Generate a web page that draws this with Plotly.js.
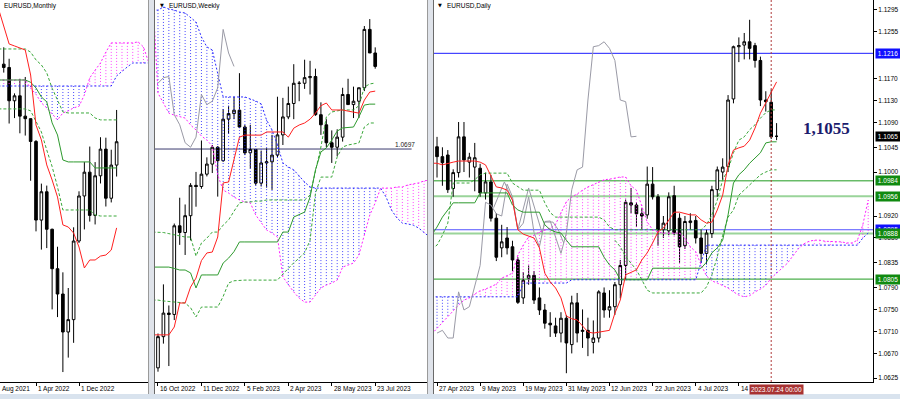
<!DOCTYPE html>
<html><head><meta charset="utf-8">
<script src="https://cdn.plot.ly/plotly-3.0.1.min.js"></script>
<style>html,body{margin:0;padding:0;background:#fff;}#chart{width:900px;height:399px;}</style>
</head><body><div id="chart"></div>
<script>
// ---------------- MONTHLY (m0 = Oct 2021 ... m21 = Jul 2023) ----------------
const mOpen  = [1.1580,1.1558,1.1337,1.1370,1.1235,1.1218,1.1067,1.0545,1.0733,1.0484,1.0222,1.0054,0.9802,0.9884,1.0406,1.0705,1.0863,1.0576,1.0839,1.1016,1.0690,1.0910];
const mHigh  = [1.1692,1.1616,1.1386,1.1483,1.1495,1.1185,1.1076,1.0787,1.0774,1.0488,1.0368,1.0198,1.0094,1.0497,1.0736,1.0930,1.1033,1.0930,1.1095,1.1092,1.1012,1.1276];
const mLow   = [1.1524,1.1186,1.1222,1.1121,1.1106,1.0806,1.0470,1.0349,1.0359,0.9952,0.9901,0.9536,0.9632,0.9730,1.0393,1.0483,1.0535,1.0516,1.0788,1.0635,1.0662,1.0834];
const mClose = [1.1558,1.1337,1.1370,1.1235,1.1218,1.1067,1.0545,1.0733,1.0484,1.0222,1.0054,0.9802,0.9884,1.0406,1.0705,1.0863,1.0576,1.0839,1.1016,1.0690,1.0910,1.1065];
// indicators from m = -1
const mTenkan = [1.1950,1.1840,1.1714,1.1701,1.1688,1.1674,1.1508,1.1176,1.1077,1.0911,1.0811,1.0698,1.0513,1.0499,1.0459,1.0366,1.0227,1.0280,1.0280,1.0306,1.0313,1.0346,1.0493];
const mKijun  = [1.1475,1.1475,1.1475,1.1475,1.1475,1.1475,1.1460,1.1422,1.1362,1.1330,1.1190,1.1110,1.0944,1.0931,1.0931,1.0931,1.0931,1.0931,1.0891,1.0891,1.0891,1.0891,1.0891];
const mDashU  = [1.1681,1.1681,1.1681,1.1681,1.1681,1.1681,1.1660,1.1608,1.1575,1.1522,1.1420,1.1342,1.1263,1.1256,1.1256,1.1256,1.1256,1.1256,1.1223,1.1210,1.1210,1.1210,1.1210];
const mDashL  = [1.1283,1.1283,1.1283,1.1283,1.1283,1.1283,1.1270,1.1200,1.1130,1.1010,1.0900,1.0765,1.0612,1.0612,1.0612,1.0612,1.0612,1.0612,1.0579,1.0572,1.0572,1.0572,1.0572];
// cloud spans from m = -1 to m = 27
const mSpanBlue = [1.1435,1.1435,1.1435,1.1435,1.1435,1.1435,1.1435,1.1435,1.1435,1.1435,1.1435,1.1435,1.1435,1.1435,1.1435,1.1435,1.1435,1.1435,1.1435,1.1435,1.1435,1.1435,1.1502,1.1535,1.1562,1.1588,1.1588,1.1588,1.1588];
const mSpanMag  = [1.1475,1.1475,1.1475,1.1475,1.1475,1.1475,1.1420,1.1380,1.1323,1.1290,1.1250,1.1210,1.1256,1.1270,1.1290,1.1300,1.1376,1.1489,1.1540,1.1588,1.1660,1.1721,1.1721,1.1721,1.1721,1.1721,1.1728,1.1694,1.1588];
const mTickIdx  = [-2, 6, 14];
const mTickText = ['1 Aug 2021','1 Apr 2022','1 Dec 2022'];

// ---------------- WEEKLY (w0 = 16 Oct 2022 ... w40 = 23 Jul 2023) ----------------
const wOpen  = [0.9722,0.9861,0.9966,0.9960,1.0355,1.0325,1.0400,1.0535,1.0530,1.0585,1.0630,1.0705,1.0645,1.0830,1.0855,1.0870,1.0795,1.0680,1.0695,1.0545,1.0635,1.0640,1.0670,1.0760,1.0840,1.0900,1.0990,1.0990,1.1015,1.1020,1.0850,1.0805,1.0725,1.0705,1.0750,1.0940,1.0895,1.0910,1.0970,1.1230,1.1125];
const wHigh  = [0.9875,1.0094,1.0000,1.0365,1.0480,1.0450,1.0545,1.0595,1.0735,1.0660,1.0715,1.0710,1.0875,1.0890,1.0930,1.1035,1.0805,1.0805,1.0695,1.0690,1.0700,1.0760,1.0930,1.0925,1.0975,1.1075,1.1000,1.1095,1.1090,1.1055,1.0905,1.0830,1.0780,1.0785,1.0970,1.1010,1.0975,1.0970,1.1245,1.1276,1.1150];
const wLow   = [0.9705,0.9830,0.9730,0.9935,1.0270,1.0225,1.0290,1.0440,1.0520,1.0575,1.0590,1.0485,1.0640,1.0765,1.0830,1.0790,1.0670,1.0610,1.0535,1.0530,1.0525,1.0515,1.0660,1.0715,1.0830,1.0830,1.0910,1.0965,1.0940,1.0845,1.0760,1.0705,1.0635,1.0665,1.0730,1.0895,1.0835,1.0835,1.0955,1.1125,1.1055];
const wClose = [0.9861,0.9966,0.9960,1.0355,1.0325,1.0400,1.0535,1.0530,1.0585,1.0630,1.0705,1.0645,1.0830,1.0855,1.0870,1.0795,1.0680,1.0695,1.0545,1.0635,1.0640,1.0670,1.0760,1.0840,1.0900,1.0990,1.0990,1.1015,1.1020,1.0850,1.0805,1.0725,1.0705,1.0750,1.0940,1.0895,1.0910,1.0970,1.1230,1.1125,1.1065];
// indicators from w = -1
const wTenkan = [0.9869,0.9869,0.9869,0.9869,0.9904,1.0011,1.0011,1.0082,1.0122,1.0200,1.0234,1.0238,1.0305,1.0546,1.0550,1.0650,1.0750,1.0759,1.0759,1.0759,1.0759,1.0773,1.0773,1.0773,1.0773,1.0750,1.0790,1.0804,1.0813,1.0830,1.0857,1.0890,1.0902,1.0871,1.0871,1.0871,1.0866,1.0862,1.0857,1.0915,1.0951,1.0955];
const wKijun  = [1.0171,1.0171,1.0171,1.0171,1.0165,1.0158,1.0158,1.0145,1.0078,1.0136,1.0136,1.0136,1.0136,1.0189,1.0211,1.0240,1.0283,1.0283,1.0283,1.0283,1.0283,1.0283,1.0283,1.0283,1.0327,1.0327,1.0394,1.0405,1.0416,1.0483,1.0604,1.0684,1.0702,1.0737,1.0777,1.0791,1.0793,1.0795,1.0840,1.0893,1.0897,1.0897];
const wDashU  = [1.0327,1.0327,1.0325,1.0320,1.0315,1.0310,1.0305,1.0305,1.0220,1.0278,1.0300,1.0327,1.0327,1.0358,1.0381,1.0420,1.0457,1.0461,1.0461,1.0465,1.0465,1.0470,1.0470,1.0470,1.0470,1.0470,1.0470,1.0470,1.0470,1.0492,1.0603,1.0706,1.0840,1.0862,1.0867,1.0871,1.0871,1.0871,1.0890,1.0973,1.0987,1.0991];
const wDashL  = [1.0024,1.0024,1.0020,1.0018,1.0015,1.0013,1.0011,0.9990,0.9949,0.9993,0.9993,0.9993,0.9993,1.0040,1.0100,1.0110,1.0113,1.0113,1.0113,1.0113,1.0113,1.0113,1.0113,1.0113,1.0140,1.0167,1.0190,1.0211,1.0235,1.0290,1.0500,1.0572,1.0572,1.0572,1.0662,1.0706,1.0715,1.0720,1.0724,1.0795,1.0813,1.0813];
// cloud spans from w = -1 to w = 50
const wSpanBlue = [1.1316,1.1316,1.1330,1.1321,1.1316,1.1307,1.1303,1.1285,1.1263,1.1196,1.1152,1.1138,1.1027,1.0929,1.0929,1.0929,1.0929,1.0929,1.0920,1.0911,1.0898,1.0826,1.0782,1.0715,1.0635,1.0617,1.0604,1.0577,1.0550,1.0528,1.0523,1.0523,1.0523,1.0523,1.0523,1.0523,1.0523,1.0523,1.0523,1.0523,1.0523,1.0523,1.0523,1.0483,1.0425,1.0390,1.0367,1.0363,1.0358,1.0345,1.0323,1.0305];
const wSpanMag  = [1.1400,1.0946,1.0902,1.0857,1.0848,1.0840,1.0835,1.0804,1.0782,1.0755,1.0737,1.0710,1.0581,1.0514,1.0501,1.0483,1.0470,1.0461,1.0457,1.0403,1.0372,1.0336,1.0323,1.0305,1.0127,1.0091,1.0060,1.0033,1.0015,1.0015,1.0047,1.0078,1.0091,1.0100,1.0113,1.0171,1.0180,1.0189,1.0225,1.0314,1.0403,1.0457,1.0523,1.0523,1.0523,1.0528,1.0528,1.0537,1.0541,1.0546,1.0555,1.0559];
const wLevel = 1.0697;
const wTickIdx  = [0, 8, 16, 24, 32, 40];
const wTickText = ['16 Oct 2022','11 Dec 2022','5 Feb 2023','2 Apr 2023','28 May 2023','23 Jul 2023'];

// ---------------- DAILY (i0 = 27 Apr 2023 ... i63 = 25 Jul 2023) ----------------
const dOpen  = [1.1046,1.1028,1.1031,1.0970,1.0999,1.1064,1.1018,1.1009,1.1007,1.0962,1.0982,1.0916,1.0862,1.0880,1.0864,1.0840,1.0771,1.0807,1.0812,1.0771,1.0749,1.0725,1.0720,1.0707,1.0734,1.0686,1.0762,1.0710,1.0712,1.0690,1.0698,1.0780,1.0749,1.0755,1.0795,1.0830,1.0944,1.0940,1.0924,1.0922,1.0978,1.0955,1.0895,1.0893,1.0957,1.0916,1.0866,1.0908,1.0912,1.0880,1.0852,1.0888,1.0968,1.1000,1.1010,1.1133,1.1228,1.1231,1.1237,1.1230,1.1203,1.1131,1.1127,1.1065];
const dHigh  = [1.1064,1.1045,1.1040,1.1005,1.1091,1.1091,1.1035,1.1053,1.1015,1.0999,1.0995,1.0925,1.0904,1.0900,1.0875,1.0845,1.0818,1.0830,1.0820,1.0790,1.0760,1.0745,1.0735,1.0745,1.0740,1.0775,1.0780,1.0750,1.0735,1.0730,1.0785,1.0790,1.0785,1.0800,1.0840,1.0950,1.0971,1.0945,1.0935,1.1010,1.1009,1.0960,1.0920,1.0963,1.0975,1.0925,1.0920,1.0925,1.0920,1.0895,1.0895,1.0975,1.1010,1.1025,1.1140,1.1230,1.1245,1.1253,1.1277,1.1235,1.1210,1.1147,1.1150,1.1089];
const dLow   = [1.0990,1.0975,1.0962,1.0955,1.0990,1.1000,1.0990,1.0965,1.0955,1.0950,1.0910,1.0838,1.0845,1.0850,1.0820,1.0760,1.0760,1.0795,1.0760,1.0740,1.0715,1.0700,1.0700,1.0690,1.0634,1.0670,1.0690,1.0680,1.0665,1.0670,1.0690,1.0735,1.0735,1.0740,1.0770,1.0805,1.0925,1.0900,1.0895,1.0915,1.0950,1.0866,1.0880,1.0885,1.0885,1.0835,1.0860,1.0895,1.0870,1.0835,1.0832,1.0880,1.0955,1.0985,1.1000,1.1125,1.1200,1.1205,1.1205,1.1190,1.1120,1.1110,1.1060,1.1058];
const dClose = [1.1028,1.1017,1.0968,1.0999,1.1064,1.1022,1.1027,1.1026,1.0962,1.0982,1.0916,1.0845,1.0873,1.0862,1.0840,1.0763,1.0803,1.0812,1.0767,1.0749,1.0725,1.0722,1.0707,1.0734,1.0689,1.0762,1.0707,1.0712,1.0698,1.0698,1.0782,1.0749,1.0755,1.0795,1.0830,1.0945,1.0940,1.0924,1.0920,1.0978,1.0955,1.0895,1.0907,1.0955,1.0890,1.0864,1.0910,1.0911,1.0880,1.0852,1.0889,1.0968,1.1004,1.1009,1.1131,1.1228,1.1230,1.1237,1.1225,1.1203,1.1131,1.1128,1.1064,1.1065];
// indicators from i = -1
const dTenkan = [1.1016,1.1016,1.1013,1.1016,1.1018,1.1020,1.1020,1.1020,1.1020,1.1018,1.1013,1.0993,1.0973,1.0971,1.0967,1.0949,1.0895,1.0887,1.0884,1.0880,1.0862,1.0816,1.0800,1.0789,1.0771,1.0738,1.0733,1.0731,1.0720,1.0709,1.0707,1.0709,1.0711,1.0712,1.0743,1.0767,1.0813,1.0818,1.0822,1.0840,1.0853,1.0871,1.0891,1.0898,1.0913,1.0927,1.0927,1.0924,1.0922,1.0922,1.0913,1.0907,1.0909,1.0931,1.0958,1.1013,1.1040,1.1044,1.1047,1.1058,1.1080,1.1107,1.1126,1.1146,1.1164];
const dKijun  = [1.0885,1.0900,1.0918,1.0931,1.0944,1.0944,1.0944,1.0944,1.0944,1.0962,1.0962,1.0962,1.0962,1.0962,1.0962,1.0940,1.0931,1.0927,1.0927,1.0927,1.0927,1.0904,1.0895,1.0891,1.0889,1.0876,1.0864,1.0864,1.0864,1.0864,1.0864,1.0864,1.0845,1.0831,1.0822,1.0804,1.0804,1.0804,1.0804,1.0804,1.0804,1.0825,1.0825,1.0825,1.0825,1.0825,1.0825,1.0825,1.0825,1.0825,1.0825,1.0836,1.0853,1.0862,1.0876,1.0922,1.0980,1.0995,1.1004,1.1016,1.1026,1.1035,1.1053,1.1055,1.1055];
const dDashU  = [1.0860,1.0867,1.0885,1.0907,1.0980,1.0980,1.0980,1.0980,1.0986,1.0995,1.0998,1.0998,1.0998,1.0998,1.0998,1.0980,1.0973,1.0967,1.0967,1.0967,1.0967,1.0944,1.0926,1.0918,1.0918,1.0918,1.0918,1.0918,1.0918,1.0918,1.0918,1.0918,1.0913,1.0900,1.0895,1.0895,1.0895,1.0895,1.0895,1.0895,1.0895,1.0895,1.0895,1.0895,1.0895,1.0895,1.0895,1.0895,1.0895,1.0895,1.0895,1.0904,1.0922,1.0949,1.0986,1.1004,1.1035,1.1058,1.1064,1.1077,1.1086,1.1098,1.1108,1.1113,1.1113];
const dDashL  = [null,null,null,null,null,null,null,null,null,null,null,null,null,null,null,null,null,null,null,null,null,null,null,null,null,null,null,null,null,null,null,null,null,null,1.0876,1.0864,1.0846,1.0835,1.0822,1.0804,1.0785,1.0780,1.0780,1.0780,1.0780,1.0780,1.0780,1.0780,1.0780,1.0780,1.0780,1.0791,1.0813,1.0846,1.0885,1.0918,1.0931,1.0958,1.0967,1.0976,1.0986,1.0995,1.1000,1.1004,1.1004];
// cloud spans from i = -1 to i = 80
const dSpanBlue = [1.0773,1.0773,1.0773,1.0773,1.0773,1.0773,1.0773,1.0773,1.0773,1.0773,1.0773,1.0773,1.0773,1.0773,1.0773,1.0773,1.0773,1.0798,1.0798,1.0798,1.0798,1.0798,1.0798,1.0798,1.0798,1.0798,1.0804,1.0804,1.0804,1.0804,1.0804,1.0804,1.0804,1.0804,1.0804,1.0804,1.0804,1.0804,1.0804,1.0804,1.0804,1.0804,1.0804,1.0804,1.0804,1.0804,1.0804,1.0804,1.0804,1.0804,1.0836,1.0867,1.0867,1.0867,1.0867,1.0867,1.0867,1.0867,1.0867,1.0867,1.0867,1.0867,1.0867,1.0867,1.0867,1.0867,1.0867,1.0867,1.0867,1.0867,1.0867,1.0867,1.0867,1.0867,1.0867,1.0867,1.0867,1.0867,1.0867,1.0867,1.0880,1.0889];
const dSpanMag  = [1.0705,1.0716,1.0727,1.0738,1.0749,1.0758,1.0767,1.0771,1.0778,1.0784,1.0787,1.0791,1.0796,1.0807,1.0811,1.0816,1.0849,1.0867,1.0882,1.0885,1.0891,1.0895,1.0898,1.0905,1.0927,1.0946,1.0955,1.0960,1.0967,1.0973,1.0977,1.0982,1.0986,1.0987,1.0989,1.0991,1.0991,1.0975,1.0967,1.0940,1.0909,1.0895,1.0891,1.0889,1.0889,1.0889,1.0889,1.0880,1.0864,1.0855,1.0831,1.0811,1.0802,1.0798,1.0794,1.0789,1.0782,1.0776,1.0773,1.0775,1.0782,1.0787,1.0794,1.0807,1.0816,1.0825,1.0834,1.0847,1.0860,1.0869,1.0874,1.0876,1.0876,1.0874,1.0874,1.0873,1.0873,1.0871,1.0871,1.0876,1.0904,1.0949];
const dGray2X = [10.5,12.5,14,15,17,18.5,19.5,20,21.5,22.5,23.5];
const dGray2Y = [1.0935,1.0982,1.0949,1.0895,1.0971,1.0922,1.0889,1.0909,1.0909,1.0895,1.0871];
const dLevels      = [1.1216, 1.0984, 1.0956, 1.0895, 1.0888, 1.0805];
const dLevelKinds  = ['blue','green','lgreen','blue2','lgreen','green2'];
const dTickVals = [1.1295,1.1255,1.1170,1.1130,1.1090,1.1045,1.1000,1.0920,1.0880,1.0835,1.0790,1.0750,1.0710,1.0670,1.0625];
const dTickIdx  = [0, 8, 16, 24, 32, 40, 48, 56];
const dTickText = ['27 Apr 2023','9 May 2023','19 May 2023','31 May 2023','12 Jun 2023','22 Jun 2023','4 Jul 2023','14'];
const dMarkIdx  = 62;
const dMarkText = '2023.07.24 00:00';
const dNoteText = '1,1055';

// ---------------- helpers ----------------
const FONT = 'Liberation Sans, Arial, sans-serif';
const FS = 6.5;
const seq = (start, n) => Array.from({length: n}, (_, k) => start + k);
const C = {red:'#ff2020', kijun:'#2e9a2e', dash:'#3aa83a', gray:'#9a9aa6', blue:'#2a2aff', mag:'#ff20ff'};

function lineTrace(xs, ys, xa, ya, color, width, dash) {
  return {type:'scatter', mode:'lines', x:xs, y:ys, xaxis:xa, yaxis:ya,
    line:{color:color, width:width, dash:dash || 'solid'}, hoverinfo:'skip', connectgaps:false};
}
function hatch(start, blue, mag, xa, ya) {
  const bx=[], by=[], mx=[], my=[];
  for (let k = 0; k < blue.length; k++) {
    const x = start + k, a = blue[k], b = mag[k];
    if (a == null || b == null) continue;
    if (a >= b) { bx.push(x, x, null); by.push(a, b, null); }
    else { mx.push(x, x, null); my.push(b, a, null); }
  }
  return [
    lineTrace(bx, by, xa, ya, 'rgba(40,40,255,0.85)', 1, '1px,2px'),
    lineTrace(mx, my, xa, ya, 'rgba(255,40,255,0.85)', 1, '1px,2px')
  ];
}
function candles(o, h, l, c, xa, ya) {
  return {type:'candlestick', x:seq(0, o.length), open:o, high:h, low:l, close:c, xaxis:xa, yaxis:ya,
    whiskerwidth:0, hoverinfo:'skip',
    increasing:{line:{color:'#000', width:1}, fillcolor:'#ffffff'},
    decreasing:{line:{color:'#000', width:1}, fillcolor:'#000000'}};
}
function ichimoku(xa, ya, o, h, l, c, tenkan, kijun, dashU, dashL, spanBlue, spanMag, withChikou) {
  const t = [];
  t.push(...hatch(-1, spanBlue, spanMag, xa, ya));
  t.push(lineTrace(seq(-1, spanBlue.length), spanBlue, xa, ya, C.blue, 1, '2px,2px'));
  t.push(lineTrace(seq(-1, spanMag.length), spanMag, xa, ya, C.mag, 1, '2px,2px'));
  if (withChikou) t.push(lineTrace(seq(0, c.length - 26), c.slice(26), xa, ya, C.gray, 1));
  t.push(lineTrace(seq(-1, dashU.length), dashU, xa, ya, C.dash, 1, '3px,2px'));
  t.push(lineTrace(seq(-1, dashL.length), dashL, xa, ya, C.dash, 1, '3px,2px'));
  t.push(lineTrace(seq(-1, kijun.length), kijun, xa, ya, C.kijun, 1));
  t.push(lineTrace(seq(-1, tenkan.length), tenkan, xa, ya, C.red, 1));
  t.push(candles(o, h, l, c, xa, ya));
  return t;
}

// ---------------- geometry ----------------
const W = 900, H = 399, AXIS_Y = 382;
const mDom = [0, 148/W],   mRange = [-0.70, 26.84];
const wDom = [155/W, 428/W], wRange = [-0.55, 49.72];
const dDom = [434/W, 873/W], dRange = [-0.56, 80.89];
const yDom = [(H - AXIS_Y)/H, 1];
const xp = (dom, rng, v) => dom[0] + (v - rng[0]) / (rng[1] - rng[0]) * (dom[1] - dom[0]);
const yp = px => 1 - px / H;

// ---------------- traces ----------------
const traces = [];
traces.push(...ichimoku('x', 'y', mOpen, mHigh, mLow, mClose, mTenkan, mKijun, mDashU, mDashL, mSpanBlue, mSpanMag, false));
traces.push(...ichimoku('x2', 'y2', wOpen, wHigh, wLow, wClose, wTenkan, wKijun, wDashU, wDashL, wSpanBlue, wSpanMag, true));
const dTr = ichimoku('x3', 'y3', dOpen, dHigh, dLow, dClose, dTenkan, dKijun, dDashU, dDashL, dSpanBlue, dSpanMag, true);
dTr.splice(3, 0, lineTrace(dGray2X, dGray2Y, 'x3', 'y3', C.gray, 1));
traces.push(...dTr);

// ---------------- axes ----------------
function xAxis(dom, rng, anchor, ticks) {
  return {domain:dom, range:rng, anchor:anchor, showgrid:false, zeroline:false, showline:true,
    linecolor:'#000', linewidth:1, ticks:'outside', ticklen:3, tickcolor:'#000', tickwidth:1,
    tickmode:'array', tickvals:ticks, showticklabels:false, fixedrange:true, rangeslider:{visible:false}};
}
const layout = {
  width:W, height:H, margin:{l:0, r:0, t:0, b:0},
  paper_bgcolor:'#ffffff', plot_bgcolor:'#ffffff', showlegend:false,
  font:{family:FONT, size:FS, color:'#000'},
  xaxis:  xAxis(mDom, mRange, 'y', mTickIdx),
  xaxis2: xAxis(wDom, wRange, 'y2', wTickIdx),
  xaxis3: xAxis(dDom, dRange, 'y3', dTickIdx),
  yaxis:  {domain:yDom, range:[0.9470, 1.2006], anchor:'x', visible:false, fixedrange:true},
  yaxis2: {domain:yDom, range:[0.9659, 1.1361], anchor:'x2', visible:false, fixedrange:true},
  yaxis3: {domain:yDom, range:[1.0618, 1.1313], anchor:'x3', side:'right', showgrid:false, zeroline:false,
    showline:true, linecolor:'#000', linewidth:1, ticks:'outside', ticklen:3, tickcolor:'#000',
    tickmode:'array', tickvals:dTickVals, ticktext:dTickVals.map(v => v.toFixed(4)),
    tickfont:{family:FONT, size:FS, color:'#000'}, fixedrange:true},
  shapes:[], annotations:[]
};

// panel frames
const S = layout.shapes;
S.push({type:'rect', xref:'paper', yref:'paper', x0:148/W, x1:155/W, y0:0, y1:1, fillcolor:'#dfe3ea', line:{width:0}});
S.push({type:'rect', xref:'paper', yref:'paper', x0:428/W, x1:434/W, y0:0, y1:1, fillcolor:'#dfe3ea', line:{width:0}});
S.push({type:'rect', xref:'paper', yref:'paper', x0:0, x1:1, y0:0, y1:5/H, fillcolor:'#d9e3ee', line:{width:0}});
[148.5, 427.5].forEach(px => S.push({type:'line', xref:'paper', yref:'paper', x0:px/W, x1:px/W, y0:5/H, y1:1, line:{color:'#9a9a9a', width:1}}));
[154.5, 433.5].forEach(px => S.push({type:'line', xref:'paper', yref:'paper', x0:px/W, x1:px/W, y0:5/H, y1:1, line:{color:'#6a6a6a', width:1}}));

// weekly level
S.push({type:'line', xref:'x2 domain', yref:'y2', x0:0, x1:0.94, y0:wLevel, y1:wLevel, line:{color:'#3a3a6e', width:1}, layer:'below'});
// daily levels
const levelStyle = {
  blue:{color:'#1c1cff', width:1}, blue2:{color:'#5050ff', width:1.2},
  green:{color:'#1f9a1f', width:1}, green2:{color:'#4caf4c', width:1.2}, lgreen:{color:'#9ad49a', width:2}
};
dLevels.forEach((v, k) => S.push({type:'line', xref:'x3 domain', yref:'y3', x0:0, x1:1, y0:v, y1:v, line:levelStyle[dLevelKinds[k]], layer:'below'}));
// daily marker line
S.push({type:'line', xref:'x3', yref:'y3 domain', x0:dMarkIdx, x1:dMarkIdx, y0:0, y1:1, line:{color:'#b03a3a', width:1, dash:'2px,2px'}});

// ---------------- annotations ----------------
const A = layout.annotations;
const txt = (x, y, text, opts) => A.push(Object.assign({xref:'paper', yref:'paper', x:x, y:y, text:text, showarrow:false,
  xanchor:'left', yanchor:'top', font:{family:FONT, size:FS, color:'#000'}, borderpad:0}, opts || {}));

function dateLabels(dom, rng, idx, labels) {
  idx.forEach((v, k) => {
    let x = xp(dom, rng, v) + 1/W, t = labels[k];
    if (x < 0) { t = t.replace(/^\d+\s/, ''); x = 1/W; }   // the leading day is cut off by the window edge
    txt(x, yp(AXIS_Y + 2), t);
  });
}
dateLabels(mDom, mRange, mTickIdx, mTickText);
dateLabels(wDom, wRange, wTickIdx, wTickText);
dateLabels(dDom, dRange, dTickIdx, dTickText);

// titles
txt(3/W, yp(1), 'EURUSD,Monthly');
txt(159/W, yp(1), '▼', {font:{family:'DejaVu Sans', size:5, color:'#000'}});
txt(168/W, yp(1), 'EURUSD,Weekly');
txt(437/W, yp(1), '▼', {font:{family:'DejaVu Sans', size:5, color:'#000'}});
txt(446/W, yp(1), 'EURUSD,Daily');

// weekly level label
A.push({xref:'x2 domain', yref:'y2', x:0.955, y:wLevel, text:wLevel.toFixed(4), showarrow:false, xanchor:'right', yanchor:'bottom',
  font:{family:FONT, size:FS, color:'#222'}, borderpad:0});

// daily price boxes
const boxBg = {blue:'#1010ff', blue2:'#1010ff', green:'#108a10', green2:'#108a10', lgreen:'#108a10'};
const boxOrder = [3, 0, 1, 2, 4, 5];
boxOrder.forEach(k => A.push({xref:'paper', yref:'y3', x:875/W, y:dLevels[k], text:dLevels[k].toFixed(4), showarrow:false,
  xanchor:'left', yanchor:'middle', bgcolor:boxBg[dLevelKinds[k]], font:{family:FONT, size:FS, color:'#fff'}, borderpad:1, width:22}));
A.push({xref:'paper', yref:'y3', x:875/W, y:dClose[dClose.length - 1], text:dClose[dClose.length - 1].toFixed(4), showarrow:false,
  xanchor:'left', yanchor:'middle', bgcolor:'#000', font:{family:FONT, size:FS, color:'#fff'}, borderpad:1, width:22});
// marker date box (its left edge sits just right of the partly hidden "14" label)
A.push({xref:'paper', yref:'paper', x:xp(dDom, dRange, dMarkIdx) - 22/W, y:yp(AXIS_Y + 2), text:dMarkText, showarrow:false,
  xanchor:'left', yanchor:'top', bgcolor:'#a83232', font:{family:FONT, size:FS, color:'#fff'}, borderpad:1});
// note
A.push({xref:'paper', yref:'paper', x:826/W, y:yp(128), text:'<b>' + dNoteText + '</b>', showarrow:false,
  xanchor:'center', yanchor:'middle', font:{family:'Liberation Serif, Times New Roman, serif', size:17, color:'#1c1c6e'}});

Plotly.newPlot('chart', traces, layout, {staticPlot:true, displayModeBar:false});
</script></body></html>
